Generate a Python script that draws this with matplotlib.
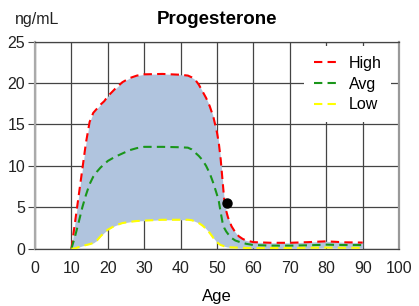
import numpy as np
import matplotlib
matplotlib.use("Agg")
import matplotlib.pyplot as plt

plt.rcParams['font.family'] = ['Liberation Sans', 'DejaVu Sans']

# progesterone ranges by age (ng/mL)
ages = [10, 11, 12, 13, 14, 15, 16, 17, 18, 19,
        20, 22, 24, 26, 28, 30, 35, 40, 42, 43,
        44, 45, 46, 47, 48, 49, 50, 50.5, 51, 51.5,
        52, 52.5, 53, 54, 55, 56, 57, 58, 60, 65,
        70, 75, 80, 85, 90]
high = [0, 3.2, 6.4, 9.6, 12.8, 15.3, 16.4, 16.9, 17.4, 17.8,
        18.4, 19.3, 20.1, 20.6, 20.9, 21.05, 21.1, 21.0, 20.9, 20.7,
        20.4, 19.8, 19.0, 18.2, 17.2, 15.9, 14.0, 12.7, 10.8, 8.3,
        5.8, 4.6, 3.8, 2.7, 2.0, 1.5, 1.2, 1.0, 0.8, 0.72,
        0.72, 0.8, 0.9, 0.78, 0.75]
avg = [0, 1.5, 3.2, 5.0, 6.5, 7.8, 8.7, 9.3, 9.8, 10.2,
       10.6, 11.1, 11.5, 11.9, 12.15, 12.3, 12.3, 12.25, 12.2, 12.0,
       11.6, 11.2, 10.7, 10.0, 9.1, 7.9, 6.5, 5.7, 4.4, 3.2,
       2.5, 2.1, 1.8, 1.3, 1.0, 0.85, 0.72, 0.6, 0.45, 0.38,
       0.38, 0.42, 0.5, 0.45, 0.45]
low = [0, 0.05, 0.2, 0.35, 0.45, 0.55, 0.7, 1.0, 1.5, 1.95,
       2.3, 2.8, 3.1, 3.25, 3.35, 3.4, 3.5, 3.5, 3.5, 3.45,
       3.3, 3.1, 2.8, 2.4, 1.9, 1.3, 0.8, 0.6, 0.45, 0.38,
       0.3, 0.25, 0.2, 0.17, 0.15, 0.13, 0.12, 0.1, 0.1, 0.1,
       0.1, 0.12, 0.15, 0.12, 0.12]

# the patient's measurement
patient_age = 52.8
patient_value = 5.55

xticks = list(range(0, 101, 10))
yticks = list(range(0, 26, 5))

fig = plt.figure(figsize=(4.19, 3.06), dpi=100)
ax = fig.add_axes([0.0835, 0.187, 0.869, 0.677])

ax.set_axisbelow(True)
ax.grid(True, color='#444444', linewidth=0.9)

ax.fill_between(ages, low, high, color='#b0c4de', linewidth=0, zorder=2)
ax.plot(ages, high, color='#ff0000', ls=(0, (4, 2.5)), lw=1.5, label='High', zorder=3)
ax.plot(ages, avg, color='#1a961a', ls=(0, (4, 2.5)), lw=1.5, label='Avg', zorder=3)
ax.plot(ages, low, color='#ffff00', ls=(0, (4, 2.5)), lw=1.5, label='Low', zorder=3)
ax.plot([patient_age], [patient_value], 'o', color='black', ms=6.5, zorder=4)

ax.set_xlim(0, 100)
ax.set_ylim(0, 25)
ax.set_xticks(xticks)
ax.set_yticks(yticks)
ax.tick_params(axis='x', length=0, pad=9, labelsize=11.5, labelcolor='#222222')
ax.tick_params(axis='y', length=5, color='#444444', pad=2, labelsize=11.5, labelcolor='#222222')

for side in ['top', 'bottom']:
    ax.spines[side].set_color('#444444')
    ax.spines[side].set_linewidth(0.9)
ax.spines['left'].set_color('#aaaaaa')
ax.spines['left'].set_linewidth(1.6)
ax.spines['right'].set_color('#999999')
ax.spines['right'].set_linewidth(1.6)

ax.set_xlabel('Age', fontsize=12, labelpad=9)
ax.set_title('Progesterone', fontsize=13.5, fontweight='bold', pad=13)
fig.text(0.035, 0.937, 'ng/mL', fontsize=11.5, ha='left', va='center', color='#222222')

leg = ax.legend(loc='upper right', bbox_to_anchor=(1.0, 1.015), fontsize=11.5,
                frameon=True, facecolor='white', edgecolor='none', framealpha=1,
                handlelength=1.5, handletextpad=0.7, labelspacing=0.35,
                borderpad=0.6, fancybox=False)

fig.savefig('out.png', dpi=100)
